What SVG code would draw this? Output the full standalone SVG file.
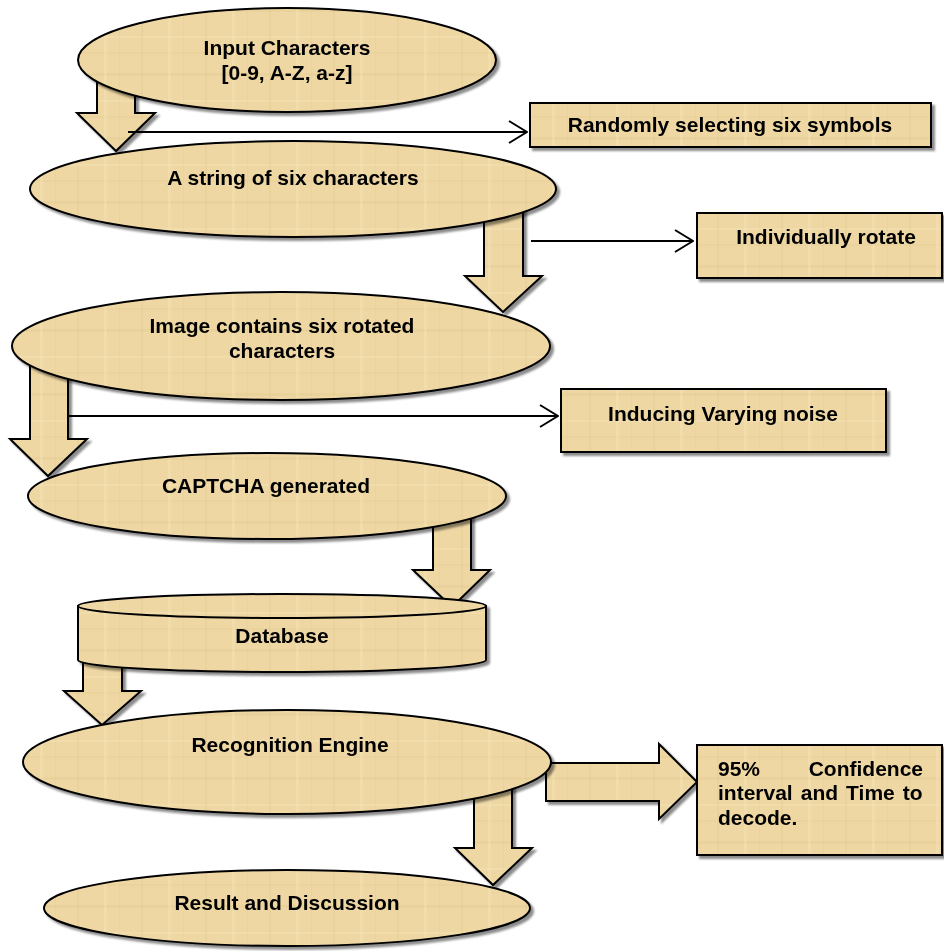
<svg xmlns="http://www.w3.org/2000/svg" width="944" height="951" viewBox="0 0 944 951">
<defs>
<pattern id="papyrus" patternUnits="userSpaceOnUse" width="64" height="64">
<rect width="64" height="64" fill="#EED7A3"/>
<rect x="0" y="9" width="64" height="3" fill="#E0C58C" opacity="0.25"/>
<rect x="0" y="36" width="64" height="2" fill="#F6E5BD" opacity="0.35"/>
<rect x="0" y="52" width="64" height="2" fill="#E0C58C" opacity="0.2"/>
<rect x="13" y="0" width="2" height="64" fill="#E0C58C" opacity="0.25"/>
<rect x="40" y="0" width="3" height="64" fill="#F6E5BD" opacity="0.35"/>
<rect x="55" y="0" width="1" height="64" fill="#E0C58C" opacity="0.2"/>
</pattern>
<filter id="sh" x="-10%" y="-20%" width="125%" height="150%">
<feDropShadow dx="3" dy="3" stdDeviation="1.2" flood-color="#000" flood-opacity="0.45"/>
</filter>
<marker id="open" markerUnits="userSpaceOnUse" viewBox="0 0 20 24" refX="19" refY="12" markerWidth="20" markerHeight="24" orient="auto">
<path d="M1,1 L19,12 L1,23" fill="none" stroke="#000" stroke-width="2"/>
</marker>
<style>
.shape{fill:url(#papyrus);stroke:#000;stroke-width:2}
.blk{fill:url(#papyrus);stroke:#000;stroke-width:2;stroke-linejoin:miter;filter:url(#sh)}
.node{filter:url(#sh)}
.t{font-family:"Liberation Sans",Arial,sans-serif;font-weight:bold;font-size:21px;fill:#000;text-anchor:middle}
.tl{font-family:"Liberation Sans",Arial,sans-serif;font-weight:bold;font-size:21px;fill:#000;text-anchor:start}
.ln{stroke:#000;stroke-width:2;fill:none;marker-end:url(#open)}
</style>
</defs>
<rect width="944" height="951" fill="#fff"/>
<g id="connectors">
<path class="blk" d="M97,70 L135,70 L135,113 L155,113 L116,151 L77,113 L97,113 Z"/>
<path class="blk" d="M484,200 L523,200 L523,276 L542,276 L503,312 L465,276 L484,276 Z"/>
<path class="blk" d="M30,345 L68,345 L68,439 L87,439 L48,476 L10,439 L30,439 Z"/>
<path class="blk" d="M433,510 L471,510 L471,570 L490,570 L452,607 L413,570 L433,570 Z"/>
<path class="blk" d="M83,640 L122,640 L122,691 L141,691 L102,725 L64,691 L83,691 Z"/>
<path class="blk" d="M474,780 L512,780 L512,848 L532,848 L493,885 L455,848 L474,848 Z"/>
<path class="blk" d="M546,763 L659,763 L659,744 L697,782 L659,819 L659,801 L546,801 Z"/>
<line class="ln" x1="128" y1="132" x2="527" y2="132"/>
<line class="ln" x1="531" y1="241" x2="693" y2="241"/>
<line class="ln" x1="68" y1="416" x2="558" y2="416"/>
</g>
<g id="input-characters" class="node">
<ellipse class="shape" cx="287" cy="60" rx="209" ry="52"/>
<text class="t" x="287" y="55">Input Characters</text>
<text class="t" x="287" y="80">[0-9, A-Z, a-z]</text>
</g>
<g id="randomly-selecting" class="node">
<rect class="shape" x="530" y="103" width="401" height="44"/>
<text class="t" x="730" y="132">Randomly selecting six symbols</text>
</g>
<g id="string-six" class="node">
<ellipse class="shape" cx="293" cy="189" rx="263" ry="48"/>
<text class="t" x="293" y="185">A string of six characters</text>
</g>
<g id="individually-rotate" class="node">
<rect class="shape" x="697" y="213" width="245" height="65"/>
<text class="t" x="826" y="244">Individually rotate</text>
</g>
<g id="image-rotated" class="node">
<ellipse class="shape" cx="281" cy="346" rx="269" ry="54"/>
<text class="t" x="282" y="333">Image contains six rotated</text>
<text class="t" x="282" y="358">characters</text>
</g>
<g id="inducing-noise" class="node">
<rect class="shape" x="561" y="389" width="325" height="63"/>
<text class="t" x="723" y="421">Inducing Varying noise</text>
</g>
<g id="captcha-generated" class="node">
<ellipse class="shape" cx="267" cy="496" rx="239" ry="43"/>
<text class="t" x="266" y="493">CAPTCHA generated</text>
</g>
<g id="database" class="node">
<path class="shape" d="M78,606 L78,660 A204,12 0 0 0 486,660 L486,606 Z"/>
<ellipse class="shape" cx="282" cy="606" rx="204" ry="12"/>
<text class="t" x="282" y="643">Database</text>
</g>
<g id="recognition-engine" class="node">
<ellipse class="shape" cx="287" cy="762" rx="264" ry="52"/>
<text class="t" x="290" y="752">Recognition Engine</text>
</g>
<g id="confidence-interval" class="node">
<rect class="shape" x="697" y="745" width="245" height="110"/>
<text class="tl" x="718" y="776" word-spacing="42.8">95% Confidence</text>
<text class="tl" x="718" y="800" word-spacing="2.2">interval and Time to</text>
<text class="tl" x="718" y="825">decode.</text>
</g>
<g id="result-discussion" class="node">
<ellipse class="shape" cx="287" cy="908" rx="243" ry="38"/>
<text class="t" x="287" y="910">Result and Discussion</text>
</g>
</svg>
